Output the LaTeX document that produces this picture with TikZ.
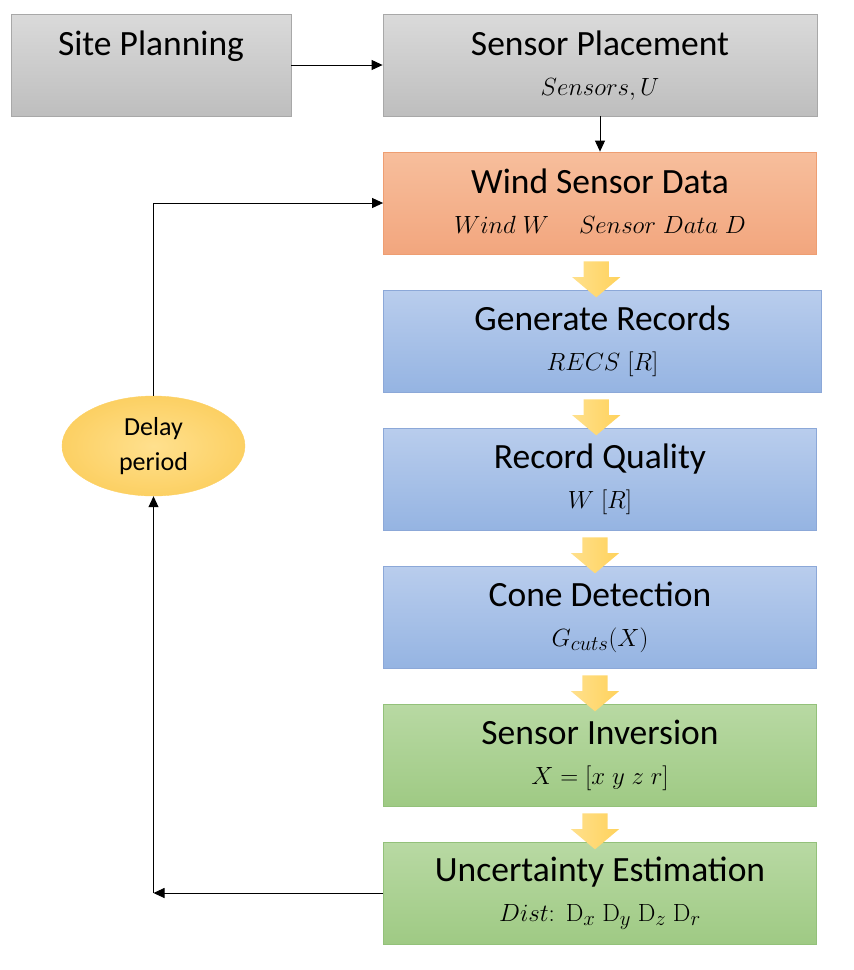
\documentclass[tikz,border=0pt]{standalone}
\usepackage[no-math]{fontspec}
\setmainfont{Carlito}
\usepackage{tikz}
\usetikzlibrary{positioning,calc,shapes.geometric,shapes.arrows,arrows.meta}

\definecolor{greytop}{HTML}{DADADA}
\definecolor{greybot}{HTML}{BEBEBE}
\definecolor{greyline}{HTML}{A8A8A8}
\definecolor{orangetop}{HTML}{F7BE9C}
\definecolor{orangebot}{HTML}{F2A67E}
\definecolor{orangeline}{HTML}{EE9E72}
\definecolor{bluetop}{HTML}{B9CDED}
\definecolor{bluebot}{HTML}{95B4E2}
\definecolor{blueline}{HTML}{8CA8D8}
\definecolor{greentop}{HTML}{B8D9A3}
\definecolor{greenbot}{HTML}{9FCA84}
\definecolor{greenline}{HTML}{93C17A}
\definecolor{yellowtop}{HTML}{FFE08C}
\definecolor{yellowbot}{HTML}{FFD25C}
\definecolor{delayin}{HTML}{FFE08E}
\definecolor{delayout}{HTML}{FCD063}

\newcommand{\stagetext}[2]{\rule{0pt}{25pt}#1\\{\fontsize{30}{40}\selectfont\rule[-5pt]{0pt}{5pt}$#2$}}

\begin{document}
\begin{tikzpicture}[
  x=1pt, y=-1pt,
  node distance=35.2pt,
  stage/.style={draw, rectangle, line width=0.8pt, minimum width=433pt,
    minimum height=102pt, inner sep=0pt, align=center,
    font=\fontsize{35.5}{40}\selectfont},
  greystage/.style={stage, top color=greytop, bottom color=greybot, draw=greyline},
  orangestage/.style={stage, top color=orangetop, bottom color=orangebot, draw=orangeline},
  bluestage/.style={stage, top color=bluetop, bottom color=bluebot, draw=blueline},
  greenstage/.style={stage, top color=greentop, bottom color=greenbot, draw=greenline},
  delaybox/.style={ellipse, minimum width=183pt, minimum height=100pt, inner sep=0pt,
    align=center, inner color=delayin, outer color=delayout, draw=delayout,
    font=\fontsize{26}{35}\selectfont},
  bigarrow/.style={single arrow, rotate=-90, minimum height=36pt,
    inner xsep=0pt, inner ysep=12.5pt,
    single arrow head extend=11.5pt, single arrow tip angle=100,
    left color=yellowtop, right color=yellowbot, draw=none},
  flow/.style={-{Triangle[length=11pt,width=10pt]}, line width=0.9pt}
]
\useasboundingbox (0,0) rectangle (854,970);

\node[greystage, minimum width=280pt] (site) at (151,65)
  {\rule[-45pt]{0pt}{70pt}Site Planning};
\node[greystage, minimum width=434pt] (place) at (600,65)
  {\stagetext{Sensor Placement}{Sensors,U}};
\node[orangestage, below=of place] (wind)
  {\stagetext{Wind Sensor Data}{Wind\ W\quad Sensor\ Data\ D}};
\node[bluestage, below=of wind, minimum width=438pt, xshift=2.5pt] (records)
  {\stagetext{Generate Records}{RECS\ [R]}};
\node[bluestage, below=of records, xshift=-2.5pt] (quality)
  {\stagetext{Record Quality}{W\ [R]}};
\node[bluestage, below=of quality] (cone)
  {\stagetext{Cone Detection}{G_{cuts}(X)}};
\node[greenstage, below=of cone] (inversion)
  {\stagetext{Sensor Inversion}{X=[x\ y\ z\ r]}};
\node[greenstage, below=of inversion] (uncert)
  {\stagetext{Uncertainty Estimation}{Dist\colon\ \mathrm{D}_x\ \mathrm{D}_y\ \mathrm{D}_z\ \mathrm{D}_r}};

\node[delaybox] (delay) at (153.5,446) {Delay\\period};

\foreach \a/\b in {wind/records, records/quality, quality/cone, cone/inversion, inversion/uncert}
  \node[bigarrow] (arrow-\a) at ($(\a.south)!0.5!(\b.north)+(-5,2)$) {};

\draw[flow] (site) -- (place);
\draw[flow] (place) -- (wind);
\coordinate (turn) at (delay.south |- uncert.west);
\draw[flow] (uncert.west) -- (turn);
\draw[flow] (turn) -- (delay.south);
\draw[flow] (delay.north) |- (wind.west);

\end{tikzpicture}
\end{document}
